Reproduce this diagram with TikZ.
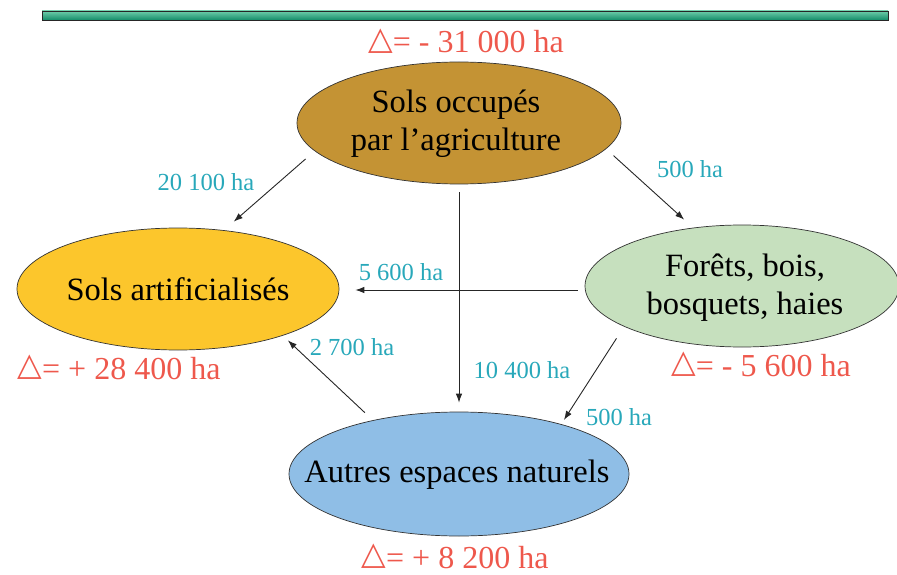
\documentclass[tikz,border=0pt]{standalone}
\usepackage{fontspec}
\setmainfont{Liberation Serif}
\newfontfamily\trifont{DejaVu Sans}
\usetikzlibrary{shapes.geometric,arrows.meta}
\definecolor{agric}{RGB}{196,147,52}
\definecolor{artc}{RGB}{252,198,44}
\definecolor{foretc}{RGB}{198,224,190}
\definecolor{autresc}{RGB}{143,190,230}
\definecolor{redc}{RGB}{238,88,76}
\definecolor{tealc}{RGB}{40,168,186}
\definecolor{barlight}{RGB}{110,205,170}
\definecolor{bardark}{RGB}{20,140,105}
\newcommand{\tri}{\raisebox{0.12em}{\trifont △}}
\begin{document}
\begin{tikzpicture}[x=1pt,y=-1pt,
  zone/.style={ellipse, draw=black!80, line width=0.7pt, inner sep=0pt},
  ztext/.style={font=\fontsize{32.5}{38}\selectfont, align=center, text=black},
  delta/.style={font=\fontsize{32}{38}\selectfont, text=redc, anchor=base},
  flow/.style={font=\fontsize{24.5}{29}\selectfont, text=tealc, anchor=base},
  arr/.style={draw=black!85, line width=0.9pt, -{Latex[length=9pt,width=6.5pt]}}]
\useasboundingbox (0,0) rectangle (897,575);
% top bar
\draw[draw=black!85, line width=0.8pt, top color=barlight, bottom color=bardark] (42,11) rectangle (888,20);
% zones
\node[zone, fill=agric, minimum width=324pt, minimum height=122pt] (agri) at (459,123) {};
\node[ztext] (agri-t) at (456,124) {Sols occupés\\par l’agriculture};
\node[zone, fill=artc, minimum width=322pt, minimum height=122pt] (art) at (178,289) {};
\node[ztext] (art-t) at (art) {Sols artificialisés};
\node[zone, fill=foretc, minimum width=314pt, minimum height=122pt] (foret) at (742,286) {};
\node[ztext] (foret-t) at (745,288) {Forêts, bois,\\bosquets, haies};
\node[zone, fill=autresc, minimum width=340pt, minimum height=124pt] (autres) at (459,474) {};
\node[ztext] (autres-t) at (457,475) {Autres espaces naturels};
% deltas
\node[delta] (d-agri) at (466,53) {\tri= - 31 000 ha};
\node[delta] (d-art) at (119,379) {\tri= + 28 400 ha};
\node[delta] (d-foret) at (761,376) {\tri= - 5 600 ha};
\node[delta] (d-autres) at (455,568) {\tri= + 8 200 ha};
% flows
\draw[arr, shorten <=12pt, shorten >=13pt] (agri.191.5) -- (art.52.4);
\draw[arr, shorten <=10pt, shorten >=12pt] (agri.350.2) -- (foret.130.9);
\draw[arr, shorten <=8pt, shorten >=9pt] (agri.south) -- (autres.north);
\coordinate (fw) at ([yshift=-4pt]foret.west);
\draw[arr, shorten <=7pt, shorten >=16pt] (fw) -- (fw -| art.east);
\draw[arr, shorten <=14pt, shorten >=5pt] (foret.199.9) -- (autres.26.2);
\draw[arr, shorten <=11pt, shorten >=7pt] (autres.148.6) -- (art.336.8);
% flow labels
\node[flow] (f1) at (206,190) {20 100 ha};
\node[flow] (f2) at (690,178) {500 ha};
\node[flow] (f3) at (522,378) {10 400 ha};
\node[flow] (f4) at (401,280) {5 600 ha};
\node[flow] (f5) at (619,425) {500 ha};
\node[flow] (f6) at (352,355) {2 700 ha};
\end{tikzpicture}
\end{document}
